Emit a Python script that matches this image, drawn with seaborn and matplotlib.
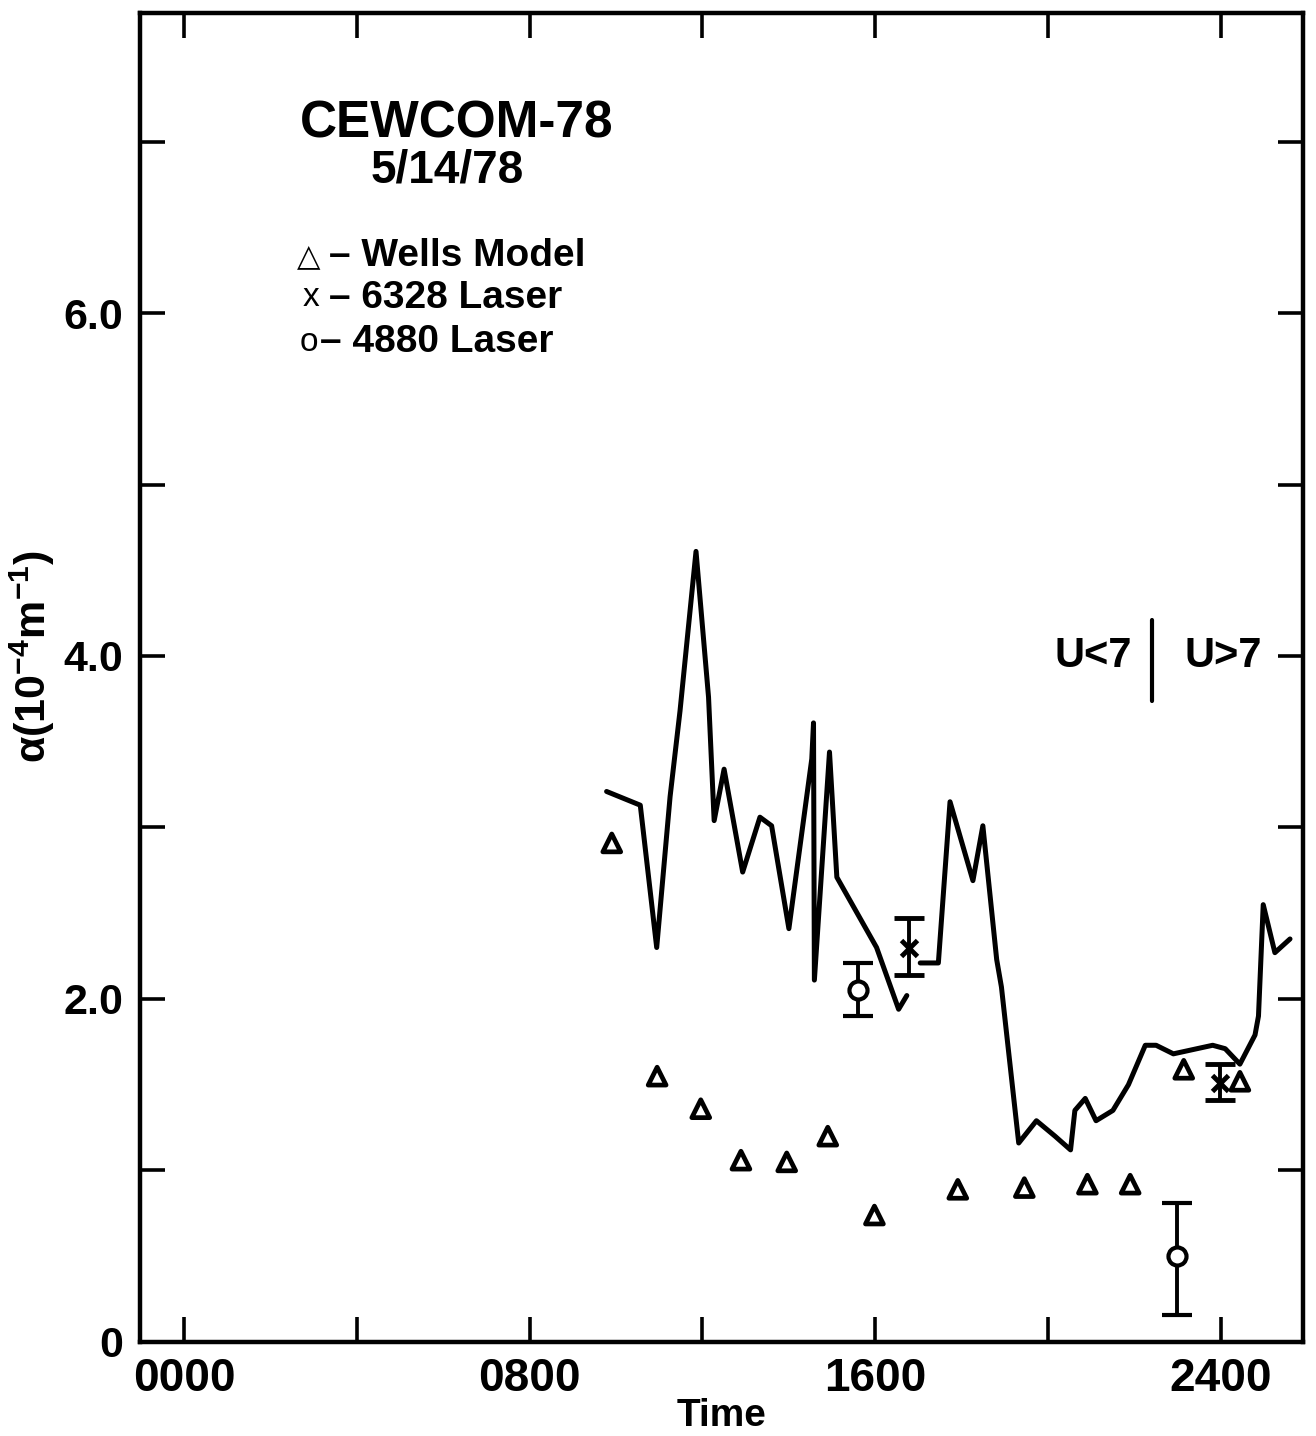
import numpy as np
import pandas as pd
import matplotlib
matplotlib.use("Agg")
import matplotlib.pyplot as plt
import seaborn as sns

# ---------------- data (time in hours, alpha in 1e-4 m^-1) ----------------
line1_time = [9.78, 10.56, 10.94, 11.25, 11.48, 11.85, 12.14, 12.27, 12.50, 12.93,
              13.33, 13.60, 14.00, 14.53, 14.57, 14.59, 14.94, 15.11, 16.03, 16.54, 16.73]
line1_alpha = [3.21, 3.13, 2.30, 3.18, 3.68, 4.61, 3.76, 3.04, 3.34, 2.74,
               3.06, 3.01, 2.41, 3.40, 3.61, 2.11, 3.44, 2.71, 2.30, 1.94, 2.02]

line2_time = [17.04, 17.46, 17.73, 18.26, 18.49, 18.81, 18.92, 19.32, 19.73, 20.16,
              20.52, 20.62, 20.86, 21.11, 21.50, 21.86, 22.25, 22.50, 22.90, 23.81,
              24.10, 24.44, 24.79, 24.87, 24.98, 25.25, 25.60]
line2_alpha = [2.21, 2.21, 3.15, 2.69, 3.01, 2.23, 2.07, 1.16, 1.29, 1.20,
               1.12, 1.35, 1.42, 1.29, 1.35, 1.50, 1.73, 1.73, 1.68, 1.73,
               1.71, 1.62, 1.79, 1.90, 2.55, 2.27, 2.35]

wells_time = [9.90, 10.95, 11.96, 12.89, 13.95, 14.90, 15.98, 17.91, 19.45, 20.91, 21.90, 23.14, 24.44]
wells_alpha = [2.91, 1.55, 1.36, 1.06, 1.05, 1.20, 0.74, 0.89, 0.90, 0.92, 0.92, 1.59, 1.52]

laser6328_time = [16.77, 23.98]
laser6328_alpha = [2.30, 1.51]
laser6328_lo = [2.14, 1.41]
laser6328_hi = [2.47, 1.62]

laser4880_time = [15.59, 22.98]
laser4880_alpha = [2.05, 0.50]
laser4880_lo = [1.90, 0.16]
laser4880_hi = [2.21, 0.81]

xtick_pos = [0, 8, 16, 24]
xtick_labels = ["0000", "0800", "1600", "2400"]
ytick_pos = [0, 2, 4, 6]
ytick_labels = ["0", "2.0", "4.0", "6.0"]

# ---------------- style ----------------
sns.set_theme(style="white")
plt.rcParams["font.family"] = ["Liberation Sans", "DejaVu Sans"]
plt.rcParams["font.weight"] = "bold"
plt.rcParams["mathtext.default"] = "regular"
plt.rcParams["axes.unicode_minus"] = True
for key in ("text.color", "axes.labelcolor", "xtick.color", "ytick.color", "axes.edgecolor"):
    plt.rcParams[key] = "black"

fig = plt.figure(figsize=(13.16, 14.36), dpi=100)
ax = fig.add_axes([0.1064, 0.0655, 0.8837, 0.9255])

lw = 3.6
df1 = pd.DataFrame({"time": line1_time, "alpha": line1_alpha})
df2 = pd.DataFrame({"time": line2_time, "alpha": line2_alpha})
sns.lineplot(data=df1, x="time", y="alpha", sort=False, estimator=None,
             color="black", linewidth=lw, ax=ax)
sns.lineplot(data=df2, x="time", y="alpha", sort=False, estimator=None,
             color="black", linewidth=lw, ax=ax)

dfw = pd.DataFrame({"time": wells_time, "alpha": wells_alpha})
sns.scatterplot(data=dfw, x="time", y="alpha", marker="^", s=165,
                facecolor="none", edgecolor="black", linewidth=3.4, ax=ax, zorder=3)

# laser measurements with error bars
a6 = np.array(laser6328_alpha)
ax.errorbar(laser6328_time, a6,
            yerr=[a6 - np.array(laser6328_lo), np.array(laser6328_hi) - a6],
            fmt="x", color="black", markersize=12, markeredgewidth=3.5,
            elinewidth=2.8, capsize=11, capthick=3.5, zorder=4)
a4 = np.array(laser4880_alpha)
ax.errorbar(laser4880_time, a4,
            yerr=[a4 - np.array(laser4880_lo), np.array(laser4880_hi) - a4],
            fmt="o", color="black", markerfacecolor="white", markersize=13,
            markeredgewidth=3, elinewidth=2.8, capsize=11, capthick=3.5, zorder=4)

# ---------------- axes ----------------
ax.set_xlim(-1.02, 25.90)
ax.set_ylim(0, 7.75)
ax.set_xticks(xtick_pos)
ax.set_xticklabels(xtick_labels)
ax.set_xticks([4, 12, 20], minor=True)
ax.set_yticks(ytick_pos)
ax.set_yticklabels(ytick_labels)
ax.set_yticks([1, 3, 5, 7], minor=True)

for which in ("major", "minor"):
    ax.tick_params(axis="both", which=which, direction="in", length=18, width=2.6,
                   top=True, right=True, bottom=True, left=True, color="black")
ax.tick_params(axis="x", which="major", labelsize=33, pad=11)
ax.tick_params(axis="y", which="major", labelsize=31, pad=12)
for lab in ax.get_xticklabels() + ax.get_yticklabels():
    lab.set_fontweight("bold")

for sp in ax.spines.values():
    sp.set_linewidth(3.2)
    sp.set_color("black")
    sp.set_visible(True)

ax.set_xlabel("Time", fontsize=28, fontweight="bold", labelpad=-2)
ax.set_ylabel("α(10$^{-4}$m$^{-1}$)", fontsize=31, fontweight="bold")
ax.yaxis.set_label_coords(-0.071, 0.516)

# ---------------- annotations ----------------
ax.text(6.32, 7.10, "CEWCOM-78", fontsize=37, fontweight="bold", ha="center", va="center")
ax.text(6.09, 6.83, "5/14/78", fontsize=33, fontweight="bold", ha="center", va="center")
ax.text(2.62, 6.33, "△", fontsize=22, fontweight="normal", ha="left", va="center",
        family=["DejaVu Sans"])
ax.text(3.36, 6.33, "– Wells Model", fontsize=28, fontweight="bold", ha="left", va="center")
ax.text(2.75, 6.09, "x", fontsize=24, fontweight="normal", ha="left", va="center")
ax.text(3.36, 6.09, "– 6328 Laser", fontsize=28, fontweight="bold", ha="left", va="center")
ax.text(2.68, 5.83, "o", fontsize=24, fontweight="normal", ha="left", va="center")
ax.text(3.15, 5.83, "– 4880 Laser", fontsize=28, fontweight="bold", ha="left", va="center")

ax.text(21.05, 4.00, "U<7", fontsize=30, fontweight="bold", ha="center", va="center")
ax.text(24.05, 4.00, "U>7", fontsize=30, fontweight="bold", ha="center", va="center")
ax.plot([22.4, 22.4], [3.74, 4.21], color="black", linewidth=3)

fig.savefig("out.png", dpi=100)
